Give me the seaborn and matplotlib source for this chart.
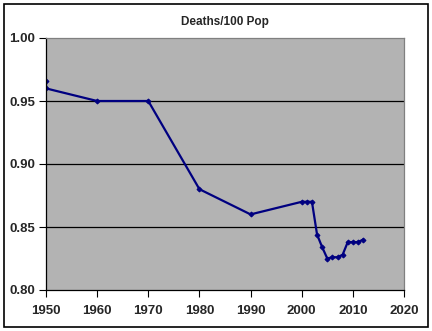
import matplotlib
matplotlib.use("Agg")
import matplotlib.pyplot as plt
import seaborn as sns
import pandas as pd
from matplotlib.patches import Rectangle

years = [1950, 1950, 1960, 1970, 1980, 1990, 2000, 2001, 2002, 2003, 2004, 2005,
         2006, 2007, 2008, 2009, 2010, 2011, 2012]
deaths = [0.966, 0.960, 0.950, 0.950, 0.880, 0.860, 0.870, 0.870, 0.870, 0.844,
          0.834, 0.825, 0.826, 0.826, 0.828, 0.838, 0.838, 0.838, 0.840]
yticks = [0.80, 0.85, 0.90, 0.95, 1.00]
xticks = [1950, 1960, 1970, 1980, 1990, 2000, 2010, 2020]

df = pd.DataFrame({"year": years, "deaths": deaths})

sns.set_style("white")
plt.rcParams['font.family'] = ['Liberation Sans', 'DejaVu Sans']

fig = plt.figure(figsize=(4.32, 3.31), dpi=100)
ax = fig.add_axes([46/432, 1-290/331, (404-46)/432, (290-38)/331])
ax.set_facecolor('#b3b3b3')

sns.lineplot(data=df, x="year", y="deaths", sort=False, ax=ax, color='#000080',
             linewidth=1.6, marker='D', markersize=2.5, markeredgecolor='#000080',
             estimator=None)

ax.set_xlim(1950, 2020)
ax.set_ylim(0.80, 1.00)
ax.set_xticks(xticks)
ax.set_yticks(yticks)
ax.set_xticklabels([str(x) for x in xticks], fontsize=9.5, fontweight='bold')
ax.set_yticklabels([f"{y:.2f}" for y in yticks], fontsize=9.5, fontweight='bold')
for y in yticks[1:-1]:
    ax.axhline(y, color='black', linewidth=0.9, zorder=1)
ax.set_xlabel("")
ax.set_ylabel("")
ax.set_title("Deaths/100 Pop", fontsize=8.5, fontweight='bold', pad=9)
ax.tick_params(axis='x', direction='out', length=5, width=0.8, color='black',
               bottom=True, pad=6)
ax.tick_params(axis='y', direction='out', length=5, width=0.8, color='black',
               left=True, pad=3)
for s in ['left', 'bottom']:
    ax.spines[s].set_color('black')
    ax.spines[s].set_linewidth(0.9)
for s in ['top', 'right']:
    ax.spines[s].set_color('#808080')
    ax.spines[s].set_linewidth(0.9)

fig.patches.append(Rectangle((4/432, 1-327/331), 424/432, 323/331, transform=fig.transFigure,
                             fill=False, edgecolor='black', linewidth=1.2))

fig.savefig("out.png", dpi=100)
